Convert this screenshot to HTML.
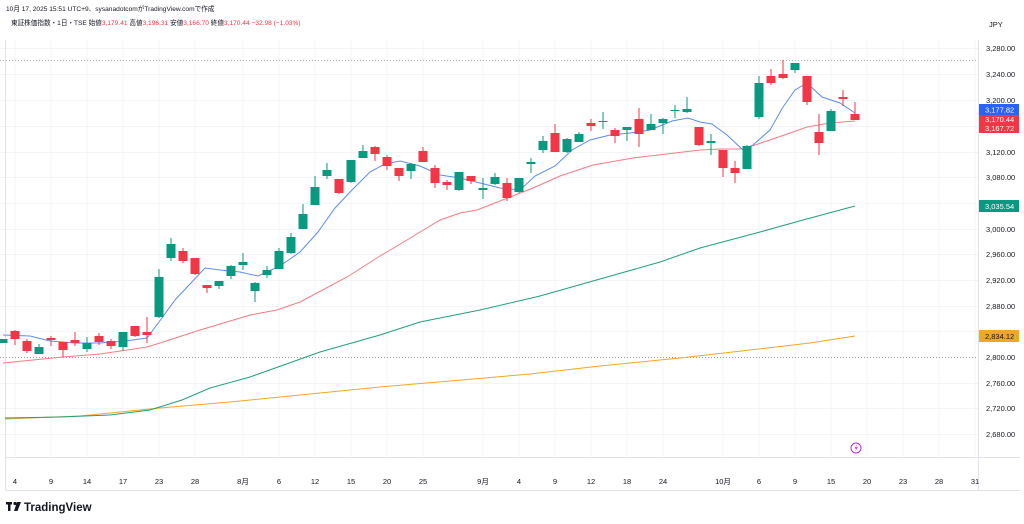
<!DOCTYPE html>
<html><head><meta charset="utf-8"><style>
html,body{margin:0;padding:0;background:#fff;width:1024px;height:524px;overflow:hidden}
svg{display:block}
text{font-family:"Liberation Sans","Noto Sans CJK JP",sans-serif}
</style></head><body>
<svg width="1024" height="524" viewBox="0 0 1024 524" xmlns="http://www.w3.org/2000/svg">
<rect width="1024" height="524" fill="#fff"/>
<g stroke="#f2f4f8" stroke-width="1">
<line x1="0" x2="978" y1="48.5" y2="48.5"/><line x1="0" x2="978" y1="74.5" y2="74.5"/><line x1="0" x2="978" y1="100.5" y2="100.5"/><line x1="0" x2="978" y1="126.5" y2="126.5"/><line x1="0" x2="978" y1="152.5" y2="152.5"/><line x1="0" x2="978" y1="177.5" y2="177.5"/><line x1="0" x2="978" y1="203.5" y2="203.5"/><line x1="0" x2="978" y1="229.5" y2="229.5"/><line x1="0" x2="978" y1="254.5" y2="254.5"/><line x1="0" x2="978" y1="280.5" y2="280.5"/><line x1="0" x2="978" y1="306.5" y2="306.5"/><line x1="0" x2="978" y1="331.5" y2="331.5"/><line x1="0" x2="978" y1="383.5" y2="383.5"/><line x1="0" x2="978" y1="408.5" y2="408.5"/><line x1="0" x2="978" y1="434.5" y2="434.5"/>
<g>
<line x1="15" x2="15" y1="40" y2="457"/><line x1="51" x2="51" y1="40" y2="457"/><line x1="87" x2="87" y1="40" y2="457"/><line x1="123" x2="123" y1="40" y2="457"/><line x1="159" x2="159" y1="40" y2="457"/><line x1="195" x2="195" y1="40" y2="457"/><line x1="243" x2="243" y1="40" y2="457"/><line x1="279" x2="279" y1="40" y2="457"/><line x1="315" x2="315" y1="40" y2="457"/><line x1="351" x2="351" y1="40" y2="457"/><line x1="387" x2="387" y1="40" y2="457"/><line x1="423" x2="423" y1="40" y2="457"/><line x1="483" x2="483" y1="40" y2="457"/><line x1="519" x2="519" y1="40" y2="457"/><line x1="555" x2="555" y1="40" y2="457"/><line x1="591" x2="591" y1="40" y2="457"/><line x1="627" x2="627" y1="40" y2="457"/><line x1="663" x2="663" y1="40" y2="457"/><line x1="723" x2="723" y1="40" y2="457"/><line x1="759" x2="759" y1="40" y2="457"/><line x1="795" x2="795" y1="40" y2="457"/><line x1="831" x2="831" y1="40" y2="457"/><line x1="867" x2="867" y1="40" y2="457"/><line x1="903" x2="903" y1="40" y2="457"/><line x1="939" x2="939" y1="40" y2="457"/><line x1="975" x2="975" y1="40" y2="457"/>
</g>
</g>
<line x1="0" x2="978" y1="60.5" y2="60.5" stroke="#b2b5be" stroke-dasharray="1,2"/>
<line x1="0" x2="978" y1="357.5" y2="357.5" stroke="#9598a1" stroke-dasharray="1,2"/>
<line x1="978.5" x2="978.5" y1="40" y2="490" stroke="#e0e3eb"/>
<line x1="5" x2="1020" y1="457.5" y2="457.5" stroke="#e0e3eb"/>
<line x1="5" x2="1020" y1="490.5" y2="490.5" stroke="#e0e3eb"/>
<line x1="5.5" x2="5.5" y1="40" y2="490" stroke="#e0e3eb"/>

<polyline fill="none" stroke="#f5a623" stroke-width="1" points="5,419 80,416 160,408 230,402 300,395 380,387 450,381 530,374 600,366 680,358 750,350 810,343 855,336"/>
<polyline fill="none" stroke="#22a07e" stroke-width="1" points="5,418 60,417 110,415 150,410 182,400 210,388 250,377 320,352 380,335 420,322 480,310 540,296 600,279 660,262 700,248 760,232 803,220 855,206"/>
<polyline fill="none" stroke="#f77c80" stroke-width="1" points="3,363 63,357 100,354 147,347 160,343 200,330 250,315 277,310 300,302 347,277 380,256 407,240 440,220 460,213 477,210 533,188 560,176 593,165 633,158 700,150 720,149 743,149 770,140 807,127 830,123 855,121"/>
<polyline fill="none" stroke="#5b8def" stroke-width="1" points="3,335 30,336 50,341 75,343 100,343 125,341 147,338 159,322 175,300 190,284 205,268 220,270 240,272 258,276 280,266 300,252 318,232 335,208 352,190 370,172 385,164 400,161 420,166 440,175 460,178 480,183 500,188 520,190 535,176 555,166 572,150 590,140 610,135 630,133 650,130 672,121 688,118 700,122 712,124 727,135 743,150 753,145 770,130 783,107 795,90 807,83 822,97 840,103 855,113"/>

<g id="candles"></g>

<g font-size="7.5" fill="#131722" text-anchor="start">
<text x="986" y="51">3,280.00</text><text x="986" y="77">3,240.00</text><text x="986" y="103">3,200.00</text><text x="986" y="155">3,120.00</text><text x="986" y="180">3,080.00</text><text x="986" y="232">3,000.00</text><text x="986" y="257">2,960.00</text><text x="986" y="283">2,920.00</text><text x="986" y="309">2,880.00</text><text x="986" y="360">2,800.00</text><text x="986" y="386">2,760.00</text><text x="986" y="411">2,720.00</text><text x="986" y="437">2,680.00</text>
<text x="989" y="27">JPY</text>
</g>
<rect x="979" y="104" width="40" height="11" fill="#2962ff"/>
<rect x="979" y="115" width="40" height="18" fill="#f23645"/>
<rect x="979" y="200" width="40" height="12" fill="#089981"/>
<rect x="979" y="330" width="40" height="12" fill="#f5a623"/>
<g font-size="7.5" fill="#fff">
<text x="985" y="112.5">3,177.82</text><text x="985" y="122">3,170.44</text><text x="985" y="131">3,167.72</text><text x="985" y="209">3,035.54</text>
</g>
<text x="985" y="339" font-size="7.5" fill="#131722">2,834.12</text>

<g font-size="7.5" fill="#131722" text-anchor="middle">
<text x="15" y="484">4</text><text x="51" y="484">9</text><text x="87" y="484">14</text><text x="123" y="484">17</text><text x="159" y="484">23</text><text x="195" y="484">28</text><text x="243" y="484">8月</text><text x="279" y="484">6</text><text x="315" y="484">12</text><text x="351" y="484">15</text><text x="387" y="484">20</text><text x="423" y="484">25</text><text x="483" y="484">9月</text><text x="519" y="484">4</text><text x="555" y="484">9</text><text x="591" y="484">12</text><text x="627" y="484">18</text><text x="663" y="484">24</text><text x="723" y="484">10月</text><text x="759" y="484">6</text><text x="795" y="484">9</text><text x="831" y="484">15</text><text x="867" y="484">20</text><text x="903" y="484">23</text><text x="939" y="484">28</text><text x="975" y="484">31</text>
</g>
<circle cx="856" cy="448" r="5" fill="none" stroke="#b02fd6" stroke-width="1"/>
<path d="M857,444.5 L854.5,448.5 L856.5,448.5 L855,451.5 L858,447.2 L856,447.2 Z" fill="#b02fd6"/>

<text x="6" y="11" font-size="6.6" fill="#131722">10月 17, 2025 15:51 UTC+9、sysanadotcomがTradingView.comで作成</text>
<text x="11" y="25" font-size="6.6" fill="#131722">東証株価指数・1日・TSE  始値<tspan fill="#f23645">3,179.41</tspan>  高値<tspan fill="#f23645">3,196.31</tspan>  安値<tspan fill="#f23645">3,166.70</tspan>  終値<tspan fill="#f23645">3,170.44  −32.98 (−1.03%)</tspan></text>

<rect x="6" y="502" width="6" height="2.5" fill="#131722"/><rect x="8" y="502" width="2.5" height="9" fill="#131722"/><circle cx="15" cy="503.5" r="1.6" fill="#131722"/><path d="M17,502 L21,502 L17.5,511 L14,511 Z" fill="#131722"/>
<text x="24" y="511" font-size="11.5" font-weight="bold" fill="#131722">TradingView</text>
</svg>
<script>
var d=[
[3,'g',339,343,339,343],[15,'r',331,339,330,345],[27,'r',341,351,339,353],[39,'g',347,354,344,354],[51,'r',338,340,336,346],[63,'r',342,350,342,357],[75,'r',340,343,332,346],[87,'g',343,349,337,352],[99,'r',336,342,333,345],[111,'r',341,346,339,349],[123,'g',332,347,332,351],[135,'r',326,336,326,337],[147,'r',332,335,317,343],[159,'g',277,317,269,318],
[171,'g',244,258,238,261],[183,'r',251,261,248,263],[195,'r',258,274,258,275],[207,'r',285,288,285,293],[219,'g',281,286,281,289],[231,'g',266,276,265,279],[243,'g',262,265,253,270],[255,'g',283,291,282,302],[267,'g',270,275,266,278],[279,'g',251,269,248,269],[291,'g',237,253,233,254],[303,'g',214,229,204,229],[315,'g',187,205,176,205],[327,'g',170,176,163,179],[339,'r',179,193,179,194],[351,'g',160,182,160,183],[363,'g',151,158,145,158],[375,'r',147,154,146,161],[387,'r',157,166,155,170],[399,'r',168,176,168,181],[411,'g',164,171,163,179],[423,'r',151,162,147,162],[435,'r',168,183,165,188],[447,'r',182,185,180,190],[459,'g',172,190,172,191],
[471,'r',176,181,176,184],[483,'g',188,190,178,199],[495,'g',177,184,173,185],[507,'r',183,198,178,201],[519,'g',178,192,178,193],[531,'g',162,164,158,173],[543,'g',141,150,136,153],[555,'r',133,152,124,152],[567,'g',139,152,138,153],[579,'g',134,142,132,142],[591,'r',123,126,119,131],[603,'g',121,122,112,129],[615,'r',130,136,128,143],[627,'g',127,130,127,141],[639,'r',119,134,108,147],[651,'g',124,130,114,130],[663,'g',119,123,118,134],[675,'g',110,111,105,118],[687,'g',109,112,97,113],
[699,'r',127,145,127,146],[711,'g',141,143,134,155],[723,'r',150,168,150,177],[735,'r',168,173,161,183],[747,'g',146,169,145,169],[759,'g',83,117,76,119],[771,'r',76,83,69,85],[783,'r',74,78,60,79],[795,'g',63,70,63,73],[807,'r',76,102,76,105],[819,'r',132,143,114,155],[831,'g',111,131,109,131],[843,'r',97,99,90,106],[855,'r',114,120,102,120]];
var s='';d.forEach(function(c){var col=c[1]=='g'?'#089981':'#f23645';var h=Math.max(1,c[3]-c[2]);
s+='<line x1="'+c[0]+'" x2="'+c[0]+'" y1="'+c[4]+'" y2="'+c[5]+'" stroke="'+col+'" stroke-width="1"/>';
s+='<rect x="'+(c[0]-4.5)+'" y="'+c[2]+'" width="9" height="'+h+'" fill="'+col+'"/>';});
document.getElementById('candles').innerHTML=s;
</script>
</body></html>
